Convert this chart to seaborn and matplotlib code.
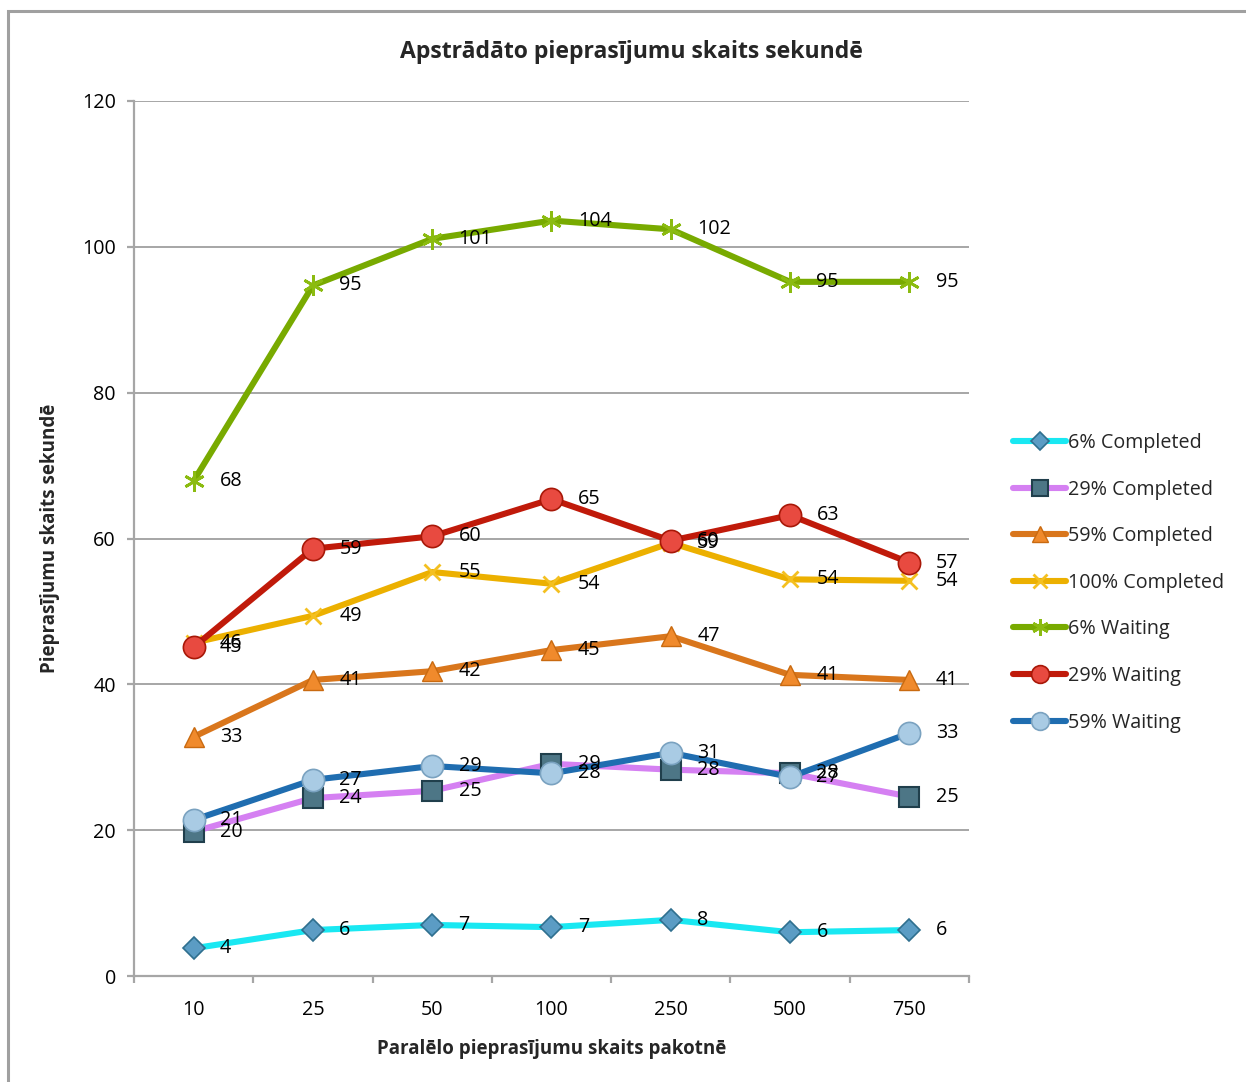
import numpy as np
import pandas as pd
import matplotlib
matplotlib.use("Agg")
import matplotlib.pyplot as plt
from matplotlib.patches import Rectangle
from matplotlib.lines import Line2D
import seaborn as sns

# Batch sizes (categorical x axis)
batch_sizes = ["10", "25", "50", "100", "250", "500", "750"]

# Processed requests per second for each series
completed_6 = [3.8, 6.3, 7.0, 6.7, 7.7, 6.0, 6.3]
completed_29 = [19.8, 24.4, 25.4, 29.1, 28.3, 27.8, 24.6]
completed_59 = [32.8, 40.6, 41.8, 44.7, 46.6, 41.3, 40.6]
completed_100 = [45.7, 49.4, 55.4, 53.8, 59.4, 54.4, 54.2]
waiting_6 = [67.9, 94.7, 101.1, 103.6, 102.4, 95.2, 95.2]
waiting_29 = [45.1, 58.6, 60.3, 65.4, 59.7, 63.2, 56.7]
waiting_59 = [21.4, 26.9, 28.8, 27.8, 30.6, 27.3, 33.3]

series_names = ["6% Completed", "29% Completed", "59% Completed", "100% Completed",
                "6% Waiting", "29% Waiting", "59% Waiting"]
series_values = [completed_6, completed_29, completed_59, completed_100,
                 waiting_6, waiting_29, waiting_59]

line_colors = ["#19e8f2", "#d580f2", "#d9761c", "#ecb000", "#78aa00", "#c01a0a", "#1f6db0"]
marker_styles = [
    dict(marker="D", ms=11, mfc="#5b9cc4", mec="#2f6f8f", mew=1.2),
    dict(marker="s", ms=14, mfc="#4d7686", mec="#203f4c", mew=1.5),
    dict(marker="^", ms=15, mfc="#f08a2c", mec="#c96a10", mew=1.0),
    dict(marker="x", ms=12, mfc="#f4c020", mec="#f4c020", mew=2.0),
    dict(marker=(6, 2, 0), ms=15, mfc="#8bbb10", mec="#8bbb10", mew=2.0),
    dict(marker="o", ms=16, mfc="#e84a40", mec="#a81808", mew=1.2),
    dict(marker="o", ms=16, mfc="#a9cbe4", mec="#7aa2c0", mew=1.2),
]

sns.set_theme(style="white")
plt.rcParams["font.family"] = ["Open Sans", "DejaVu Sans"]

FS = 14.2

W, H = 1246, 1082
fig = plt.figure(figsize=(W / 100, H / 100), dpi=100)
ax = fig.add_axes([134 / W, 1 - 976 / H, (969 - 134) / W, (976 - 101) / H])

x_pos = np.arange(len(batch_sizes))
handles = []
for name, vals, col, mk in zip(series_names, series_values, line_colors, marker_styles):
    df = pd.DataFrame({"x": x_pos, "y": vals})
    sns.lineplot(data=df, x="x", y="y", ax=ax, color=col, linewidth=4.4,
                 marker=mk["marker"], markersize=mk["ms"],
                 markerfacecolor=mk["mfc"], markeredgecolor=mk["mec"],
                 markeredgewidth=mk["mew"], zorder=3, legend=False)
    for xi, v in zip(x_pos, vals):
        ax.annotate(f"{v:.0f}", (xi, v), xytext=(19, 0), textcoords="offset points",
                    ha="left", va="center", fontsize=FS, color="black", zorder=5)
    handles.append(Line2D([0], [0], color=col, linewidth=4.4, solid_capstyle="round",
                          marker=mk["marker"], markersize=mk["ms"] * 0.8,
                          markerfacecolor=mk["mfc"], markeredgecolor=mk["mec"],
                          markeredgewidth=mk["mew"]))

ax.set_xlim(-0.5, len(batch_sizes) - 0.5)
ax.set_ylim(0, 120)
ax.set_yticks(np.arange(0, 121, 20))
ax.set_xticks(x_pos)
ax.set_xticklabels(batch_sizes)
ax.set_xticks(np.arange(-0.5, len(batch_sizes), 1), minor=True)
ax.yaxis.grid(True, color="#a6a6a6", linewidth=1.4)
ax.xaxis.grid(False)
ax.set_axisbelow(True)

for side in ["top", "right"]:
    ax.spines[side].set_visible(False)
for side in ["left", "bottom"]:
    ax.spines[side].set_color("#a6a6a6")
    ax.spines[side].set_linewidth(1.6)

ax.tick_params(axis="x", which="major", length=0, pad=17, labelsize=FS, colors="black")
ax.tick_params(axis="x", which="minor", length=5, width=1.6, color="#a6a6a6", direction="out", bottom=True)
ax.tick_params(axis="y", which="major", length=5, width=1.6, color="#a6a6a6", direction="out",
               left=True, pad=8, labelsize=FS, labelcolor="black")

ax.set_xlabel("Paralēlo pieprasījumu skaits pakotnē", fontsize=13.5, fontweight="bold", labelpad=14)
ax.set_ylabel("Pieprasījumu skaits sekundē", fontsize=13.5, fontweight="bold", labelpad=16)
fig.text(631 / W, 1 - 52 / H, "Apstrādāto pieprasījumu skaits sekundē",
         ha="center", va="center", fontsize=16.6, fontweight="bold")

fig.legend(handles, series_names, loc="upper left", bbox_to_anchor=(1005 / W, 1 - 425 / H),
           frameon=False, fontsize=FS, handlelength=2.7, handletextpad=0.1,
           labelspacing=1.35, borderaxespad=0)

# Outer chart frame
fig.patches.append(Rectangle((7.5 / W, -0.05), 1.2, 1 - 10.5 / H + 0.05,
                             transform=fig.transFigure, fill=False,
                             edgecolor="#a0a0a0", linewidth=2.2))

fig.savefig("out.png", dpi=100)
